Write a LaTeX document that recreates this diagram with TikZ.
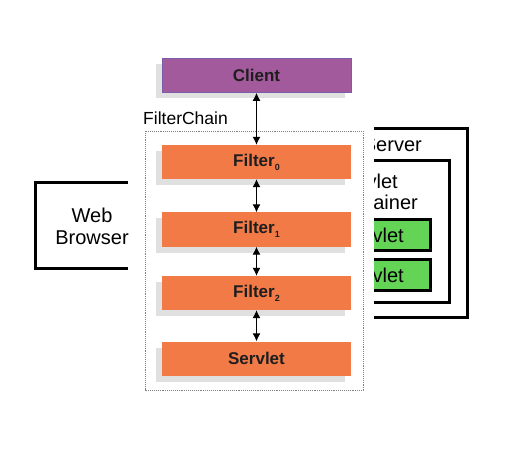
\documentclass[tikz,border=0pt]{standalone}
\usepackage{fontspec}
\setmainfont{Liberation Sans}
\usetikzlibrary{arrows.meta,shadows}
\definecolor{clientfill}{HTML}{A25A9C}
\definecolor{clientline}{HTML}{7B5EA8}
\definecolor{filterfill}{HTML}{F27A47}
\definecolor{shadowgray}{HTML}{E0E0E0}
\definecolor{greenfill}{HTML}{64D456}
\definecolor{labeltext}{HTML}{1E1E1E}
\newcommand{\lowsub}[1]{\raisebox{-4pt}{\fontsize{9}{9}\selectfont #1}}
\tikzset{
  chainbox/.style={rectangle, minimum width=189pt, minimum height=34pt, inner sep=0pt,
    font=\fontsize{17}{19}\selectfont\bfseries, text=labeltext,
    drop shadow={shadow xshift=-6pt, shadow yshift=-6pt, fill=shadowgray, opacity=1}},
  filterbox/.style={chainbox, fill=filterfill},
  clientbox/.style={chainbox, fill=clientfill, draw=clientline, line width=0.8pt},
  link/.style={<->, >={Latex[length=8pt,width=8pt]}, line width=1pt},
  thickline/.style={line width=3pt},
  plain/.style={font=\fontsize{20}{22}\selectfont, text=black, inner sep=0pt},
}
\begin{document}
\begin{tikzpicture}[x=1pt,y=-1pt]
\useasboundingbox (0,0) rectangle (522,465);
\fill[white] (0,0) rectangle (522,465);

% Web Browser (cut on its right side)
\draw[thickline] (128,182.5) -- (35,182.5) -- (35,268) -- (128,268);
\node[plain, align=center] (browser) at (92,226) {Web\\Browser};

% Server / Servlet Container, cut on its left side
\begin{scope}
  \clip (374,100) rectangle (522,340);
  \draw[thickline] (300,128.5) -- (467.5,128.5) -- (467.5,317.5) -- (300,317.5);
  \node[plain, anchor=base east] (server) at (422,152) {Server};
  \draw[thickline] (300,160.5) -- (449.5,160.5) -- (449.5,302) -- (300,302);
  \node[plain, anchor=base east] (cont1) at (398,189) {Servlet};
  \node[plain, anchor=base east] (cont2) at (418,209.5) {Container};
  \draw[thickline, fill=greenfill] (300,220) rectangle (430,250.5);
  \node[plain, anchor=base east] (sv1) at (404,243) {Servlet};
  \draw[thickline, fill=greenfill] (300,259) rectangle (430,290);
  \node[plain, anchor=base east] (sv2) at (404,282.5) {Servlet};
\end{scope}

% Filter chain frame
\draw[gray, densely dotted, line width=0.9pt] (145,131) rectangle (363,390);
\node[font=\fontsize{17.5}{20}\selectfont, anchor=base west, inner sep=0pt] (fclabel) at (143,125) {FilterChain};

% Boxes
\node[clientbox] (client) at (256.5,75.5) {Client};
\node[filterbox] (f0) at (256.5,162) {Filter\lowsub{0}};
\node[filterbox] (f1) at (256.5,229.5) {Filter\lowsub{1}};
\node[filterbox] (f2) at (256.5,293) {Filter\lowsub{2}};
\node[filterbox] (servlet) at (256.5,358.5) {Servlet};

% Links
\draw[link] (client.south) -- (f0.north);
\draw[link] (f0.south) -- (f1.north);
\draw[link] (f1.south) -- (f2.north);
\draw[link] (f2.south) -- (servlet.north);
\end{tikzpicture}
\end{document}
